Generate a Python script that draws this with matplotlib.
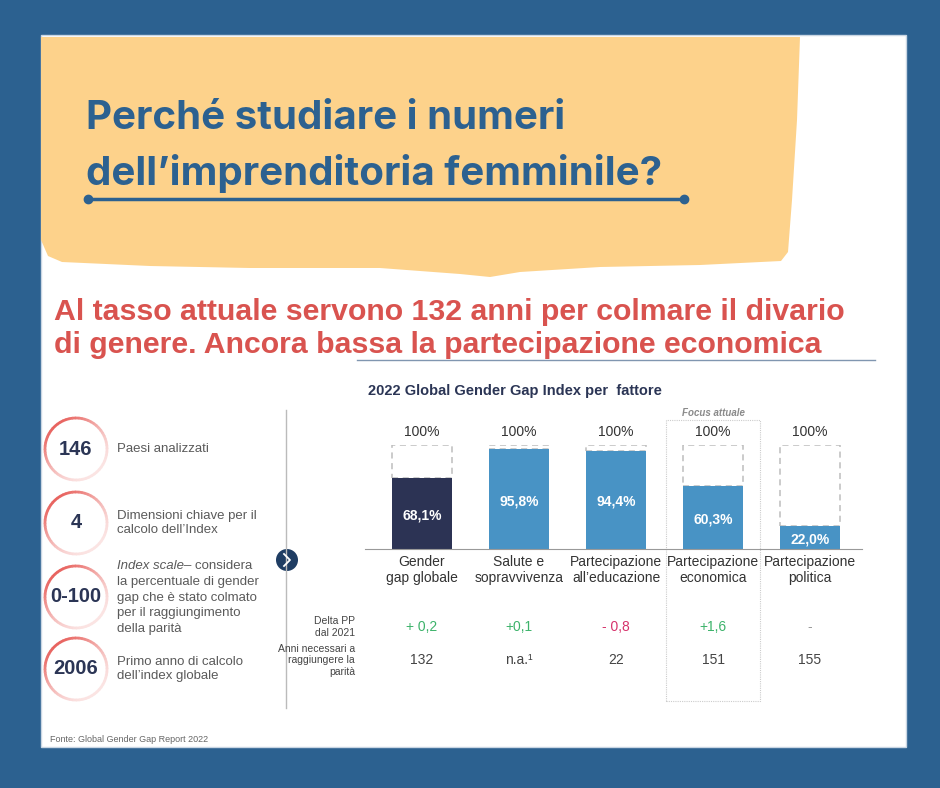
import numpy as np
import matplotlib.pyplot as plt
from matplotlib.patches import Polygon, Circle, Rectangle, Arc
from matplotlib.colors import to_rgb

# data
categories = ['Gender\ngap globale', 'Salute e\nsopravvivenza', 'Partecipazione\nall\u2019educazione',
              'Partecipazione\neconomica', 'Partecipazione\npolitica']
scores = [68.1, 95.8, 94.4, 60.3, 22.0]
bar_colors = ['#2c3354', '#4893c5', '#4893c5', '#4893c5', '#4893c5']
delta_labels = ['+ 0,2', '+0,1', '- 0,8', '+1,6', '-']
delta_colors = ['#3db36b', '#3db36b', '#d6336c', '#3db36b', '#999999']
years_labels = ['132', 'n.a.\u00b9', '22', '151', '155']
focus_index = 3

stat_numbers = ['146', '4', '0-100', '2006']
stat_texts = ['Paesi analizzati',
              'Dimensioni chiave per il\ncalcolo dell\u2019Index',
              None,
              'Primo anno di calcolo\ndell\u2019index globale']

BLUE = '#2c6190'
NAVY = '#2b3555'
GREY = '#5a5a5a'
SANS = ['Liberation Sans', 'DejaVu Sans']
TITLE = ['Inter', 'Liberation Sans', 'DejaVu Sans']

fig = plt.figure(figsize=(9.4, 7.88), dpi=100)
fig.patch.set_facecolor(BLUE)

# background layer in pixel units
bg = fig.add_axes([0, 0, 1, 1])
bg.set_xlim(0, 940)
bg.set_ylim(788, 0)
bg.axis('off')

bg.add_patch(Rectangle((41, 35), 865, 712, facecolor='white', edgecolor='#c9d6e3', lw=1))
yellow = [(41, 37), (800, 37), (797, 120), (792, 200), (788, 252), (781, 261), (700, 265),
          (600, 267), (520, 272), (490, 277), (460, 274), (380, 268), (250, 268),
          (150, 266), (62, 262), (48, 256), (41, 240)]
bg.add_patch(Polygon(yellow, closed=True, facecolor='#fdd28b', edgecolor='none'))

bg.text(86, 118, 'Perché studiare i numeri', fontsize=29, fontweight='bold', color=BLUE,
        family=TITLE, va='center', ha='left')
bg.text(86, 173, 'dell\u2019imprenditoria femminile?', fontsize=29, fontweight='bold', color=BLUE,
        family=TITLE, va='center', ha='left')
bg.plot([88, 684], [199, 199], color=BLUE, lw=2.5, solid_capstyle='round')
bg.plot([88, 684], [199, 199], 'o', color=BLUE, ms=6)

bg.text(54, 312, 'Al tasso attuale servono 132 anni per colmare il divario', fontsize=21.8,
        fontweight='bold', color='#d9534f', family=SANS, va='center', ha='left')
bg.text(54, 345, 'di genere. Ancora bassa la partecipazione economica', fontsize=21.8,
        fontweight='bold', color='#d9534f', family=SANS, va='center', ha='left')
bg.plot([357, 875], [360, 360], color='#8096b0', lw=1)

bg.text(515, 391, '2022 Global Gender Gap Index per  fattore', fontsize=10.5, fontweight='bold',
        color=NAVY, family=SANS, ha='center', va='center')

# left panel: rings fading from red (top-left) to pale pink (bottom-right)
strong = np.array(to_rgb('#e8635f'))
pale = np.array(to_rgb('#fbe4e3'))
ys = [449, 523, 597, 669]
for y, num, txt in zip(ys, stat_numbers, stat_texts):
    bg.add_patch(Circle((76, y), 31, facecolor='white', edgecolor='none'))
    for a in range(0, 360, 6):
        phi = np.radians(a + 3)
        w = (1 + np.cos(phi - np.radians(130))) / 2
        col = pale + (strong - pale) * w ** 1.5
        bg.add_patch(Arc((76, y), 62, 62, theta1=-(a + 7), theta2=-a, color=col, lw=2))
    bg.text(76, y, num, fontsize=14.5, fontweight='bold', color=NAVY, family=SANS,
            ha='center', va='center')
    if txt:
        bg.text(117, y, txt, fontsize=9.5, color=GREY, family=SANS, ha='left', va='center',
                linespacing=1.3)
t = bg.text(117, 566, 'Index scale', fontsize=9.5, style='italic', color=GREY, family=SANS,
            ha='left', va='center')
bg.annotate('\u2013 considera', xy=(1, 0.5), xycoords=t, fontsize=9.5, color=GREY, family=SANS,
            ha='left', va='center')
for i, line in enumerate(['la percentuale di gender', 'gap che è stato colmato',
                          'per il raggiungimento', 'della parità']):
    bg.text(117, 582 + i * 15.7, line, fontsize=9.5, color=GREY, family=SANS, ha='left',
            va='center')

bg.plot([286, 286], [410, 708], color='#bbbbbb', lw=1)
bg.add_patch(Circle((287, 560), 11, facecolor='#1f3d63', edgecolor='none'))
bg.plot([284, 290, 284], [554, 560, 566], color='white', lw=1.3)

bg.text(50, 740, 'Fonte: Global Gender Gap Report 2022', fontsize=6.5, color='#666666',
        family=SANS, ha='left', va='center')

# bar chart
ax = fig.add_axes([365 / 940, (788 - 549) / 788, 497 / 940, 104 / 788])
ax.patch.set_alpha(0)
x = list(range(len(scores)))
ax.bar(x, scores, width=0.62, color=bar_colors, zorder=2)
ax.bar(x, [100 - s for s in scores], bottom=scores, width=0.62, fill=False,
       edgecolor='#bdbdbd', linestyle=(0, (4, 3)), lw=1.1, zorder=1)
ax.set_xlim(-0.588, 4.536)
ax.set_ylim(0, 100)
for s in ['top', 'right', 'left']:
    ax.spines[s].set_visible(False)
ax.spines['bottom'].set_color('#999999')
ax.set_yticks([])
ax.set_xticks(x)
ax.set_xticklabels(categories, fontsize=10, color='#333333', family=SANS, linespacing=1.2)
ax.tick_params(axis='x', length=0, pad=4)

for i, s in enumerate(scores):
    ax.text(i, 112.5, '100%', fontsize=10, color='#333333', family=SANS, ha='center',
            va='center')
    ax.text(i, s / 2 - 2, f'{s:.1f}%'.replace('.', ','), fontsize=10, fontweight='bold',
            color='white', family=SANS, ha='center', va='center')
    ax.text(i, -75, delta_labels[i], fontsize=10, color=delta_colors[i], family=SANS,
            ha='center', va='center')
    ax.text(i, -107, years_labels[i], fontsize=10, color='#444444', family=SANS,
            ha='center', va='center')

ax.text(-0.69, -75, 'Delta PP\ndal 2021', fontsize=7.5, color='#444444', family=SANS,
        ha='right', va='center', linespacing=1.2)
ax.text(-0.69, -107, 'Anni necessari a\nraggiungere la\nparità', fontsize=7.5, color='#444444',
        family=SANS, ha='right', va='center', linespacing=1.2)

ax.add_patch(Rectangle((focus_index - 0.485, -146), 0.97, 270, fill=False, edgecolor='#cccccc',
                       linestyle=(0, (1, 1)), lw=0.8, clip_on=False))
ax.text(focus_index, 131, 'Focus attuale', fontsize=7, style='italic', fontweight='bold',
        color='#8a8a8a', family=SANS, ha='center', va='center')

fig.savefig('out.png', dpi=100, facecolor=fig.get_facecolor())
